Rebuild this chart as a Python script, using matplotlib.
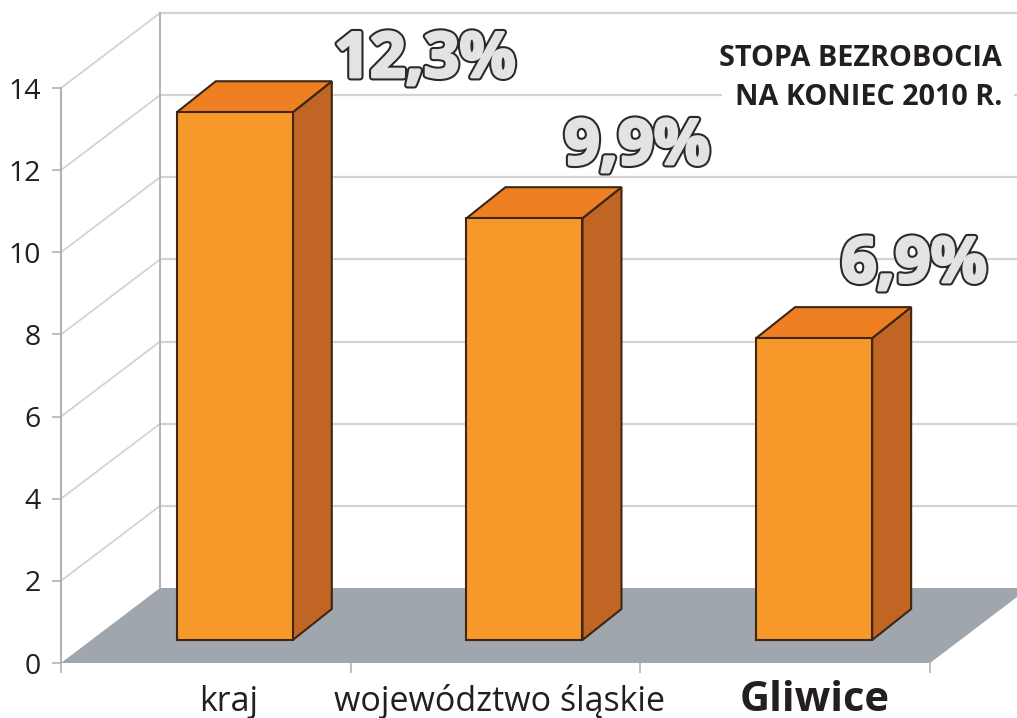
import matplotlib
matplotlib.use("Agg")
import matplotlib.pyplot as plt
import matplotlib.patheffects as pe
from matplotlib.patches import Polygon

plt.rcParams["font.family"] = ["Open Sans", "DejaVu Sans"]

# Data
categories = ["kraj", "województwo śląskie", "Gliwice"]
bar_heights = [12.85, 10.27, 7.35]  # drawn height on the axis scale
value_labels = ["12,3%", "9,9%", "6,9%"]
y_ticks = [0, 2, 4, 6, 8, 10, 12, 14]
title_lines = ["STOPA BEZROBOCIA", "NA KONIEC 2010 R."]

W, H = 1017, 718
X0, Y0 = 61, 663        # pixel of the axis origin
PX_X, PX_Y = 289.67, 41.07  # pixels per category / per unit

fig = plt.figure(figsize=(W / 100, H / 100), dpi=100)
ax = fig.add_axes([X0 / W, (H - Y0) / H, (W - X0) / W, Y0 / H])
ax.set_xlim(0, (W - X0) / PX_X)
ax.set_ylim(0, Y0 / PX_Y)

# depth of the room and of the bars, in data units
room_dx, room_dy = 99 / PX_X, 75 / PX_Y
bar_dx, bar_dy = 39 / PX_X, 31 / PX_Y
bar_w = 116 / PX_X
bar_base = 23 / PX_Y

GRID = "#d6d2d2"
AXIS = "#b4b1b4"
xr = ax.get_xlim()[1]

# walls and grid
for v in y_ticks[1:]:
    ax.plot([0, room_dx], [v, v + room_dy], color=GRID, lw=1.3, zorder=1)
    ax.plot([room_dx, xr], [v + room_dy] * 2, color=GRID, lw=1.6, zorder=1)
ax.plot([room_dx, room_dx], [room_dy, 14 + room_dy], color=AXIS, lw=1.4, zorder=1)

# floor
floor = Polygon([(0, 0), (room_dx, room_dy), (xr, room_dy), (xr, 66 / PX_Y), (3, 0)],
                closed=True, facecolor="#9fa6ad", edgecolor="none", zorder=2)
ax.add_patch(floor)

# bars
for i, h in enumerate(bar_heights):
    x = i + 0.6 - bar_w / 2
    top = bar_base + h
    front = Polygon([(x, bar_base), (x + bar_w, bar_base), (x + bar_w, top), (x, top)],
                    facecolor="#f7992a", edgecolor="#3d2613", lw=1.5, zorder=4)
    side = Polygon([(x + bar_w, bar_base), (x + bar_w + bar_dx, bar_base + bar_dy),
                    (x + bar_w + bar_dx, top + bar_dy), (x + bar_w, top)],
                   facecolor="#c06523", edgecolor="#3d2613", lw=1.5, zorder=3)
    cap = Polygon([(x, top), (x + bar_w, top), (x + bar_w + bar_dx, top + bar_dy),
                   (x + bar_dx, top + bar_dy)],
                  facecolor="#ee7f22", edgecolor="#3d2613", lw=1.5, zorder=3)
    for p in (side, cap, front):
        ax.add_patch(p)

# axes
for s in ["top", "right", "bottom"]:
    ax.spines[s].set_visible(False)
ax.spines["left"].set_bounds(0, 14)
ax.spines["left"].set_color(AXIS)
ax.spines["left"].set_linewidth(1.5)
ax.set_yticks(y_ticks)
ax.tick_params(axis="y", length=6.5, width=1.2, color=AXIS, pad=8, labelsize=20.5,
               labelcolor="#231f20")
ax.set_xticks([0, 1, 2, 3])
ax.set_xticklabels([])
ax.tick_params(axis="x", which="major", length=7.5, width=1.2, color=AXIS)
ax.set_xticks([0.58, 1.515, 2.6], minor=True)
ax.set_xticklabels(categories, minor=True)
ax.tick_params(axis="x", which="minor", length=0, pad=34.5, labelsize=24.5, labelcolor="#231f20")
for lab in ax.xaxis.get_minorticklabels():
    lab.set_verticalalignment("baseline")
last = ax.xaxis.get_minorticklabels()[2]
last.set_fontsize(30)
last.set_fontweight("bold")

# value labels, same outline look as the original
label_px = [(425, 77), (637, 164), (914, 282)]
for txt, (px, py) in zip(value_labels, label_px):
    fig.text(px / W, 1 - py / H, txt, ha="center", va="baseline", fontsize=45,
             fontweight="bold", color="#e1e3e5", zorder=6,
             path_effects=[pe.Stroke(linewidth=5, foreground="#2a2a2c"),
                           pe.Stroke(linewidth=2, foreground="#e1e3e5"), pe.Normal()])

# white box breaks the grid line behind the title
fig.text(1002 / W, 1 - 66 / H, title_lines[0], ha="right", va="baseline",
         fontsize=20.7, fontweight="bold", color="#231f20", zorder=6)
fig.text(1002 / W, 1 - 105 / H, title_lines[1], ha="right", va="baseline",
         fontsize=20.7, fontweight="bold", color="#231f20", zorder=6,
         bbox=dict(facecolor="white", edgecolor="none", pad=9))

fig.savefig("out.png", dpi=100)
